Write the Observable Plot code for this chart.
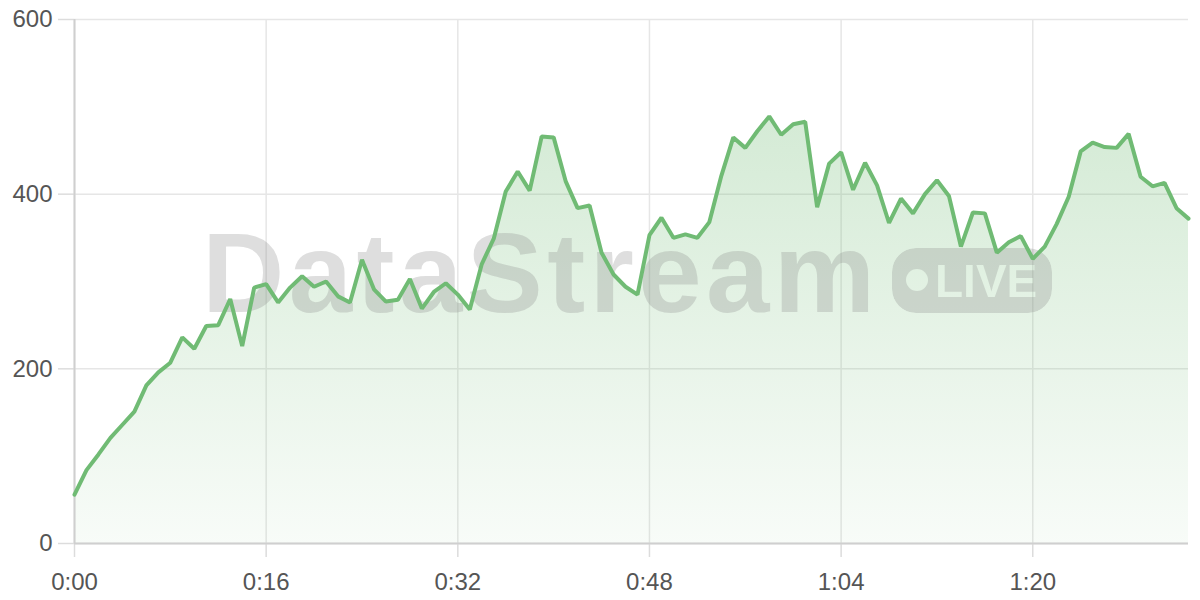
<!DOCTYPE html>
<html><head><meta charset="utf-8">
<script src="https://cdn.jsdelivr.net/npm/d3@7"></script>
<script src="https://cdn.jsdelivr.net/npm/@observablehq/plot@0.6"></script>
<style>body{margin:0;background:#fff} #chart{width:1200px;height:600px}</style>
</head><body><div id="chart"></div>
<script>
// samples, one per second
const values = [56,84,102,121,136,151,181,196,207,236,223,249,250,280,226,293,297,276,293,306,
  294,300,283,276,325,291,277,279,303,269,288,298,285,268,320,349,403,426,404,466,
  465,415,384,387,333,308,294,285,353,373,350,354,350,368,421,465,453,472,489,468,
  480,483,385,435,448,405,436,410,367,395,378,400,416,398,340,379,378,333,345,352,
  326,340,366,397,449,459,454,453,469,420,409,413,384,372];
const xTicks = [0,16,32,48,64,80];
const yTicks = [0,200,400,600];
const data = values.map((v,i)=>({t:i, v}));
const fmt = s => `${Math.floor(s/60)}:${String(s%60).padStart(2,"0")}`;
const lineColor = "#70bb74";

function defs() {
  const d = d3.create("svg:defs");
  const g = d.append("linearGradient").attr("id","areaGrad").attr("x1",0).attr("y1",0).attr("x2",0).attr("y2",1);
  g.append("stop").attr("offset","0%").attr("stop-color",lineColor).attr("stop-opacity",0.3);
  g.append("stop").attr("offset","100%").attr("stop-color",lineColor).attr("stop-opacity",0.05);
  const m = d.append("mask").attr("id","pillMask").attr("maskUnits","userSpaceOnUse")
    .attr("x",0).attr("y",0).attr("width",1200).attr("height",600);
  m.append("rect").attr("x",892).attr("y",248).attr("width",160).attr("height",65).attr("rx",24).attr("fill","#fff");
  m.append("circle").attr("cx",917).attr("cy",280).attr("r",11).attr("fill","#000");
  m.append("text").attr("x",935).attr("y",297).attr("font-size",46).attr("font-weight","bold")
    .attr("text-anchor","start")
    .attr("font-family","Liberation Sans, Arial, sans-serif").attr("fill","#000").text("LIVE");
  return d.node();
}
function watermark() {
  const g = d3.create("svg:g").attr("aria-label","watermark").attr("fill","#888").attr("fill-opacity",0.28);
  g.append("text").attr("x",202).attr("y",312).attr("font-size",114).attr("font-weight","bold")
    .attr("text-anchor","start")
    .attr("font-family","Liberation Sans, Arial, sans-serif").attr("letter-spacing",4.4).text("DataStream");
  g.append("rect").attr("x",892).attr("y",248).attr("width",160).attr("height",65).attr("rx",24)
    .attr("mask","url(#pillMask)");
  return g.node();
}

const chart = Plot.plot({
  width:1200, height:600, marginLeft:74, marginRight:12, marginTop:19, marginBottom:57,
  style:{fontFamily:"Liberation Sans, Arial, sans-serif", fontSize:"24px", color:"#555", background:"#fff"},
  x:{domain:[0,93], ticks:xTicks, tickFormat:fmt, tickSize:14, tickPadding:15, label:null},
  y:{domain:[0,600], ticks:yTicks, tickSize:16, tickPadding:6, label:null},
  marks:[
    defs,
    Plot.ruleY(yTicks,{stroke:"#e6e6e6", strokeWidth:1.5}),
    Plot.ruleX(xTicks,{stroke:"#e6e6e6", strokeWidth:1.5}),
    Plot.areaY(data,{x:"t", y:"v", fill:"url(#areaGrad)"}),
    watermark,
    Plot.ruleX([0],{stroke:"#cfcfcf", strokeWidth:2}),
    Plot.ruleY([0],{stroke:"#cfcfcf", strokeWidth:2}),
    Plot.line(data,{x:"t", y:"v", stroke:lineColor, strokeWidth:4, strokeLinejoin:"miter"})
  ]
});
const s = d3.select(chart);
s.selectAll('[aria-label^="x-axis"], [aria-label^="y-axis"]').each(function(){
  const g = d3.select(this);
  g.selectAll("line, path").attr("stroke","#dcdcdc").attr("stroke-width",1.5);
  g.selectAll("text").attr("fill","#555").attr("stroke","none");
});
document.getElementById("chart").appendChild(chart);
</script>
</body></html>
